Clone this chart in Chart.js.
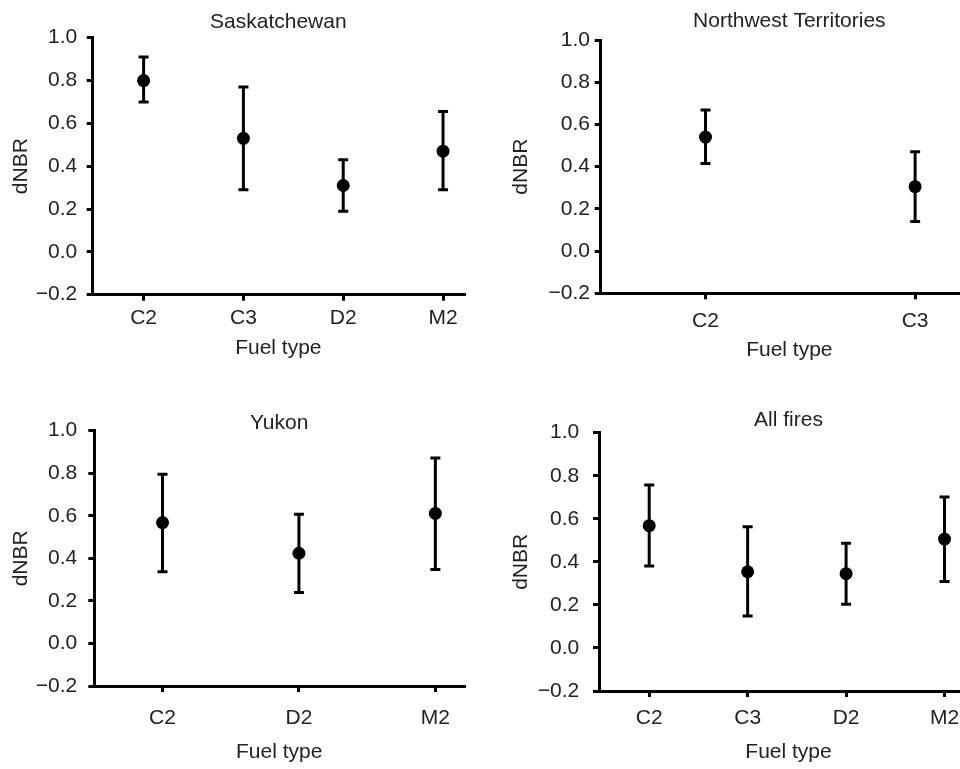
<!DOCTYPE html>
<html>
<head>
<meta charset="utf-8">
<script src="https://cdn.jsdelivr.net/npm/chart.js@4.4.0/dist/chart.umd.min.js"></script>
<style>
  html, body { margin: 0; padding: 0; background: #fff; overflow: hidden; }
  body { width: 960px; height: 769px; position: relative; }
  .panel { position: absolute; }
</style>
</head>
<body>
<div class="panel" id="p1"><canvas id="c1"></canvas></div>
<div class="panel" id="p2"><canvas id="c2"></canvas></div>
<div class="panel" id="p3"><canvas id="c3"></canvas></div>
<div class="panel" id="p4"><canvas id="c4"></canvas></div>
<script>
// dNBR by fuel type, mean with error bars
const yMin = -0.2;
const yMax = 1.0;
const yStep = 0.2;

const sasTitle = 'Saskatchewan';
const sasFuel = ['C2', 'C3', 'D2', 'M2'];
const sasMean = [0.80, 0.53, 0.31, 0.47];
const sasLow = [0.70, 0.29, 0.19, 0.29];
const sasHigh = [0.91, 0.77, 0.43, 0.655];

const nwtTitle = 'Northwest Territories';
const nwtFuel = ['C2', 'C3'];
const nwtMean = [0.54, 0.305];
const nwtLow = [0.415, 0.14];
const nwtHigh = [0.668, 0.47];

const yukTitle = 'Yukon';
const yukFuel = ['C2', 'D2', 'M2'];
const yukMean = [0.568, 0.424, 0.611];
const yukLow = [0.337, 0.24, 0.348];
const yukHigh = [0.795, 0.607, 0.872];

const allTitle = 'All fires';
const allFuel = ['C2', 'C3', 'D2', 'M2'];
const allMean = [0.568, 0.354, 0.345, 0.506];
const allLow = [0.381, 0.148, 0.203, 0.309];
const allHigh = [0.757, 0.563, 0.486, 0.701];

const FONT = "'Liberation Sans', Arial, sans-serif";
const FS = 21;
const TXT = '#222';

function fmtTick(v) {
    if (Math.abs(v) < 1e-9) v = 0;
    return v.toFixed(1).replace('-', '\u2212');
}

function makePanel(canvasId, boxId, box, title, fuel, mean, low, high) {
    const div = document.getElementById(boxId);
    div.style.left = box.left + 'px';
    div.style.top = box.top + 'px';
    div.style.width = box.w + 'px';
    div.style.height = box.h + 'px';

    const meanPts = fuel.map((f, i) => ({ x: i, y: mean[i] }));
    const capPts = [];
    const barPts = [];
    fuel.forEach((f, i) => {
        capPts.push({ x: i, y: low[i] }, { x: i, y: high[i] });
        barPts.push({ x: i, y: low[i] }, { x: i, y: high[i] }, { x: i, y: null });
    });

    const font = { family: FONT, size: FS, weight: 'normal', lineHeight: 1.2 };
    const axisGrid = { display: true, drawOnChartArea: false, drawTicks: true, tickLength: 6,
                       color: '#000', tickColor: '#000', tickWidth: 3, lineWidth: 3 };

    new Chart(document.getElementById(canvasId), {
        type: 'scatter',
        data: {
            datasets: [
                { data: meanPts, pointStyle: 'circle', pointRadius: 6.5, pointHoverRadius: 6.5,
                  backgroundColor: '#000', borderWidth: 0 },
                { data: capPts, pointStyle: 'line', pointRadius: 5, pointHoverRadius: 5,
                  borderColor: '#000', pointBorderWidth: 3 },
                { data: barPts, showLine: true, spanGaps: false, pointRadius: 0,
                  borderColor: '#000', borderWidth: 3 }
            ]
        },
        options: {
            responsive: true,
            maintainAspectRatio: false,
            animation: false,
            events: [],
            layout: { padding: { left: 0, right: box.padRight, top: 0, bottom: 0 } },
            plugins: {
                legend: { display: false },
                tooltip: { enabled: false },
                title: {
                    display: true,
                    text: title,
                    fullSize: false,
                    color: TXT,
                    font: font,
                    padding: { top: box.titleTop, bottom: box.titleBot }
                }
            },
            scales: {
                x: {
                    type: 'linear',
                    min: box.xMin,
                    max: box.xMax,
                    afterBuildTicks: s => { s.ticks = fuel.map((f, i) => ({ value: i })); },
                    afterFit: s => { s.height = box.h - box.chartBottom; },
                    ticks: {
                        callback: v => fuel[v],
                        color: TXT,
                        padding: box.xTickPad,
                        maxRotation: 0,
                        font: font
                    },
                    grid: axisGrid,
                    border: { display: true, color: '#000', width: 3 },
                    title: {
                        display: true,
                        text: 'Fuel type',
                        color: TXT,
                        font: font,
                        padding: { top: 0, bottom: box.xTitlePad }
                    }
                },
                y: {
                    min: yMin,
                    max: yMax,
                    afterFit: s => { s.width = box.axisLeft; },
                    ticks: {
                        stepSize: yStep,
                        callback: fmtTick,
                        color: TXT,
                        padding: box.yTickPad,
                        font: font
                    },
                    grid: axisGrid,
                    border: { display: true, color: '#000', width: 3 },
                    title: {
                        display: true,
                        text: 'dNBR',
                        color: TXT,
                        font: font,
                        padding: { top: box.yTitlePad, bottom: 0 }
                    }
                }
            }
        }
    });
}

makePanel('c1', 'p1',
    { left: 0, top: 0, w: 480, h: 385, axisLeft: 92.7, padRight: 16, chartBottom: 294.7,
      titleTop: 9.4, titleBot: 3.1, yTickPad: 9.4, yTitlePad: 9.1, xTickPad: 5.0, xTitlePad: 24.1,
      xMin: -0.51, xMax: 3.21 },
    sasTitle, sasFuel, sasMean, sasLow, sasHigh);

makePanel('c2', 'p2',
    { left: 480, top: 0, w: 506, h: 385, axisLeft: 120.7, padRight: 0.7, chartBottom: 293.3,
      titleTop: 9.1, titleBot: 5.7, yTickPad: 4.7, yTitlePad: 29.1, xTickPad: 9.8, xTitlePad: 22.4,
      xMin: -0.5, xMax: 1.3 },
    nwtTitle, nwtFuel, nwtMean, nwtLow, nwtHigh);

makePanel('c3', 'p3',
    { left: 0, top: 385, w: 480, h: 384, axisLeft: 94.3, padRight: 16, chartBottom: 301,
      titleTop: 25.4, titleBot: -4.9, yTickPad: 11, yTitlePad: 9.1, xTickPad: 13.7, xTitlePad: 3.7,
      xMin: -0.5, xMax: 2.21 },
    yukTitle, yukFuel, yukMean, yukLow, yukHigh);

makePanel('c4', 'p4',
    { left: 480, top: 385, w: 506, h: 384, axisLeft: 119, padRight: 1.6, chartBottom: 306,
      titleTop: 22.4, titleBot: 0.1, yTickPad: 13.7, yTitlePad: 29.1, xTickPad: 8.7, xTitlePad: 3.7,
      xMin: -0.51, xMax: 3.34 },
    allTitle, allFuel, allMean, allLow, allHigh);
</script>
</body>
</html>
